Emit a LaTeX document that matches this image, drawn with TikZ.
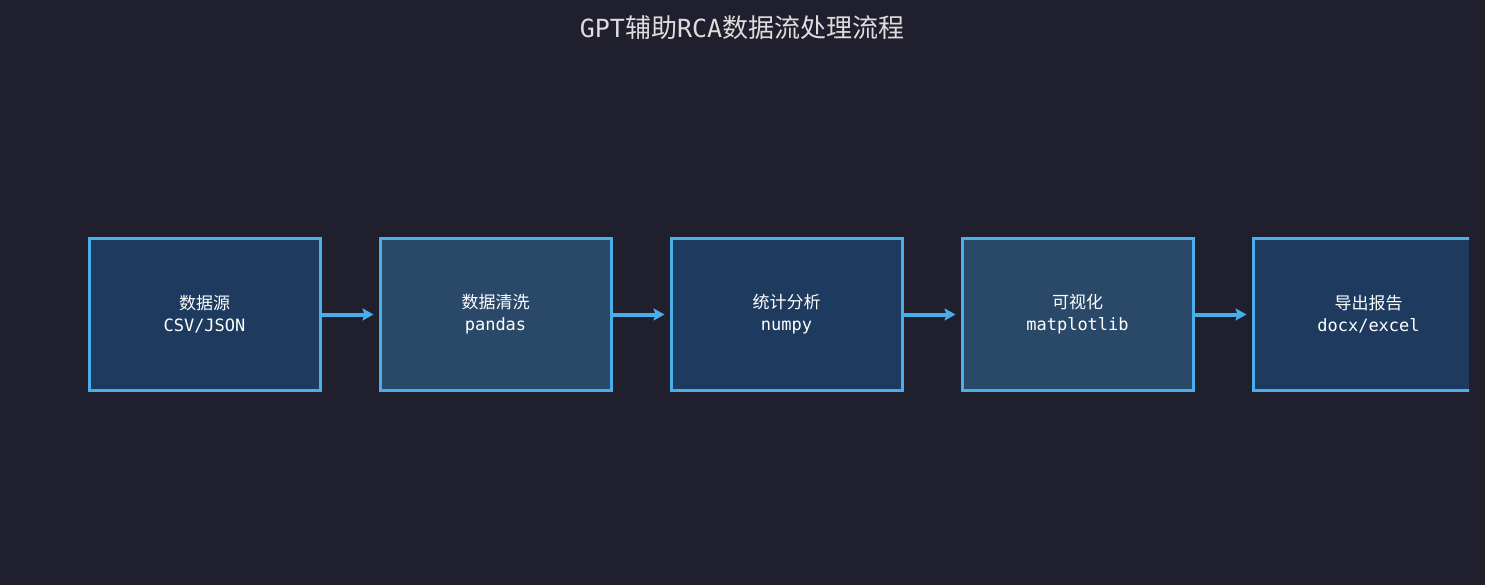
\documentclass[tikz,border=0pt]{standalone}
\usepackage{fontspec}
\setmainfont{DejaVu Sans Mono}
\newfontfamily\cjk{Noto Sans CJK SC}
\usetikzlibrary{arrows.meta}
\definecolor{bg}{HTML}{1F1F2E}
\definecolor{fa}{HTML}{1E3A5F}
\definecolor{fb}{HTML}{2A4868}
\definecolor{bd}{HTML}{4AAEEA}
\definecolor{tt}{HTML}{DDDDDD}
\begin{document}
\begin{tikzpicture}[x=1pt,y=-1pt,
  box/.style={draw=bd,line width=3pt,minimum width=231pt,minimum height=151pt,inner sep=0pt,text=white,align=center,font=\fontsize{17}{22}\selectfont},
  arr/.style={draw=bd,line width=4pt,-{Stealth[length=11pt,width=12pt,inset=2pt]}}]
\fill[bg] (0,0) rectangle (1485,585);
\useasboundingbox (0,0) rectangle (1485,585);
\node[text=tt,font=\fontsize{25}{29}\selectfont] (title) at (742,28) {GPT{\cjk\fontsize{26}{29}\selectfont 辅助}RCA{\cjk\fontsize{26}{29}\selectfont 数据流处理流程}};
\node[box,fill=fa] (a) at (204.5,314.5) {{\cjk 数据源}\\CSV/JSON};
\node[box,fill=fb] (b) at (495.5,314.5) {{\cjk 数据清洗}\\pandas};
\node[box,fill=fa] (c) at (786.5,314.5) {{\cjk 统计分析}\\numpy};
\node[box,fill=fb] (d) at (1077.5,314.5) {{\cjk 可视化}\\matplotlib};
\begin{scope}
\clip (1240,200) rectangle (1469,420);
\node[box,fill=fa] (e) at (1368.5,314.5) {};
\end{scope}
\node[text=white,align=center,font=\fontsize{17}{22}\selectfont] (et) at (1368.5,314.5) {{\cjk 导出报告}\\docx/excel};
\draw[arr] (a.east) -- ([xshift=-5pt]b.west);
\draw[arr] (b.east) -- ([xshift=-5pt]c.west);
\draw[arr] (c.east) -- ([xshift=-5pt]d.west);
\draw[arr] (d.east) -- ([xshift=-5pt]e.west);
\end{tikzpicture}
\end{document}
